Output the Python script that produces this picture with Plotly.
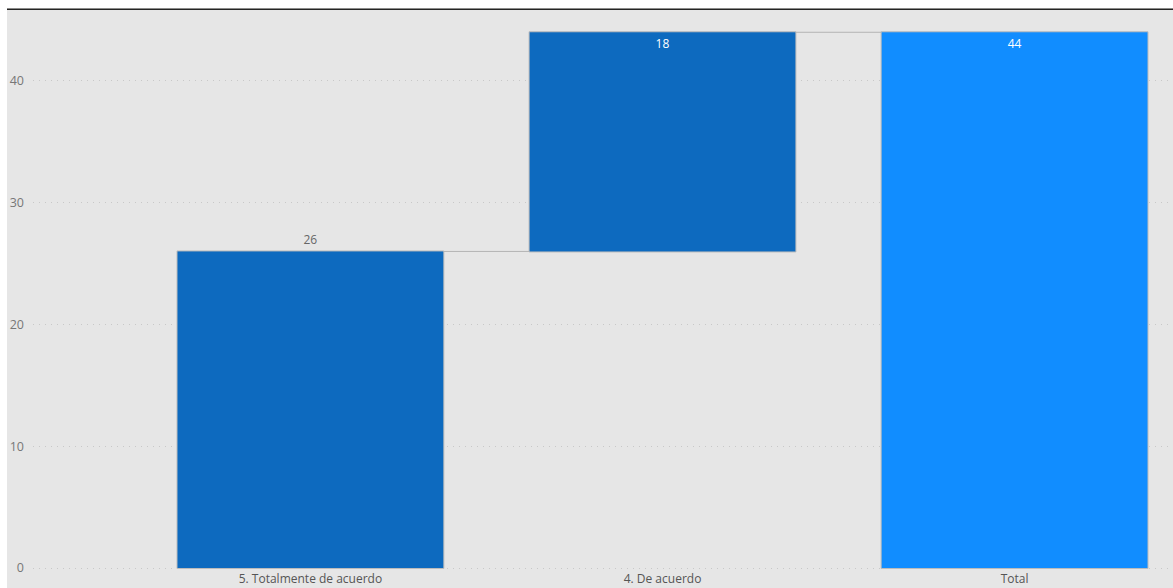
import plotly.graph_objects as go

categories = ["5. Totalmente de acuerdo", "4. De acuerdo", "Total"]
values = [26, 18, 44]
measures = ["relative", "relative", "total"]
labels = ["26", "18", "44"]
y_ticks = [0, 10, 20, 30, 40]

W, H = 1173, 588
ML, MR, MT, MB = 33, 0, 10, 18
pw, ph = W - ML - MR, H - MT - MB


def px_x(p):
    return (p - ML) / pw


def px_y(p):
    return (H - MB - p) / ph


fig = go.Figure(
    go.Waterfall(
        x=categories,
        y=values,
        measure=measures,
        text=labels,
        textposition=["outside", "inside", "inside"],
        insidetextanchor="end",
        textfont=dict(family="Open Sans", size=12),
        insidetextfont=dict(color="white", family="Open Sans", size=12),
        outsidetextfont=dict(color="#666666", family="Open Sans", size=12),
        increasing=dict(marker=dict(color="#0D6ABF", line=dict(color="#bcbcbc", width=1))),
        decreasing=dict(marker=dict(color="#0D6ABF", line=dict(color="#bcbcbc", width=1))),
        totals=dict(marker=dict(color="#118DFF", line=dict(color="#bcbcbc", width=1))),
        connector=dict(line=dict(color="#b4b4b4", width=1)),
        width=0.758,
        cliponaxis=False,
        hoverinfo="x+y",
    )
)

fig.update_layout(
    width=W,
    height=H,
    margin=dict(l=ML, r=MR, t=MT, b=MB),
    paper_bgcolor="#e6e6e6",
    plot_bgcolor="#e6e6e6",
    showlegend=False,
    font=dict(family="Open Sans", size=12, color="#666666"),
    xaxis=dict(
        range=[-0.788, 2.45],
        showgrid=False,
        zeroline=False,
        showline=False,
        ticks="",
        ticklabelstandoff=0,
        automargin=False,
        tickfont=dict(size=12, color="#555555"),
        fixedrange=True,
    ),
    yaxis=dict(
        range=[-0.164, 45.83],
        tickvals=y_ticks,
        showgrid=True,
        gridcolor="#c8c8c8",
        griddash="1px,5px",
        gridwidth=1,
        zeroline=False,
        showline=False,
        ticks="",
        ticklabelstandoff=8,
        automargin=False,
        tickfont=dict(size=12.5, color="#777777"),
        fixedrange=True,
    ),
    shapes=[
        # white strip along the top edge
        dict(type="rect", xref="paper", yref="paper",
             x0=px_x(0), x1=px_x(W), y0=px_y(8.5), y1=px_y(0),
             fillcolor="white", line=dict(width=0), layer="above"),
        # white strip along the left edge
        dict(type="rect", xref="paper", yref="paper",
             x0=px_x(0), x1=px_x(7), y0=px_y(H), y1=px_y(0),
             fillcolor="white", line=dict(width=0), layer="above"),
        # dark rule under the top strip
        dict(type="line", xref="paper", yref="paper",
             x0=px_x(7), x1=px_x(W), y0=px_y(9.2), y1=px_y(9.2),
             line=dict(color="#252423", width=1.5), layer="above"),
    ],
)

fig.write_html("out.html")
